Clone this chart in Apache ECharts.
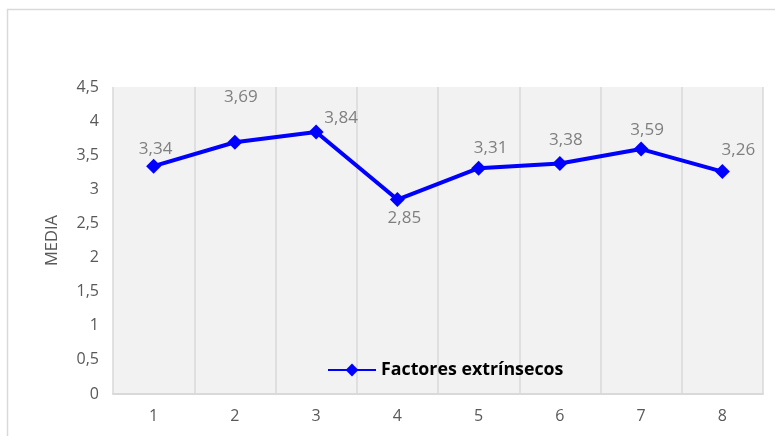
<!DOCTYPE html>
<html><head><meta charset="utf-8">
<script src="https://cdn.jsdelivr.net/npm/echarts@6/dist/echarts.min.js"></script>
<style>html,body{margin:0;padding:0;background:#fff}#c{width:775px;height:436px}</style>
</head><body><div id="c"></div>
<script>
const categories = ['1','2','3','4','5','6','7','8'];
const values = [3.34, 3.69, 3.84, 2.85, 3.31, 3.38, 3.59, 3.26];
const seriesName = 'Factores extrínsecos';
const yTitle = 'MEDIA';
// label offsets (style only)
const labelOffsets = [[2,-17],[6,-45],[25,-14],[7,19],[12,-20],[6,-23],[6,-19],[16,-21]];
const fmt = v => String(v).replace('.', ',');
const font = 'Open Sans';
const chart = echarts.init(document.getElementById('c'));
chart.setOption({
  animation: false,
  textStyle: {fontFamily: font},
  graphic: [{type:'rect', shape:{x:7.5,y:9.5,width:800,height:500}, style:{fill:'none', stroke:'#d9d9d9', lineWidth:1.5}, z:-10}],
  grid: {left:113, top:87, width:650, height:307, show:true, backgroundColor:'#f2f2f2', borderWidth:0},
  legend: {left:322, top:356, itemWidth:48, itemHeight:16, itemGap:0,
    textStyle:{fontFamily:font, fontSize:17.8, fontWeight:'bold', color:'#000'},
    data:[{name:seriesName}]},
  xAxis: {type:'category', data:categories, boundaryGap:true,
    axisLine:{show:true, lineStyle:{color:'#d9d9d9', width:2}},
    axisTick:{show:false},
    axisLabel:{color:'#595959', fontSize:16, margin:14, fontFamily:font},
    splitLine:{show:true, lineStyle:{color:'#d9d9d9', width:1.5}}},
  yAxis: {type:'value', min:0, max:4.5, interval:0.5,
    name:yTitle, nameLocation:'middle', nameGap:52, nameRotate:90,
    nameTextStyle:{color:'#595959', fontSize:16.5, fontFamily:font},
    axisLine:{show:false}, axisTick:{show:false}, splitLine:{show:false},
    axisLabel:{color:'#595959', fontSize:16, margin:14, fontFamily:font, formatter:v=>fmt(v)}},
  series: [{
    name: seriesName, type:'line',
    data: values.map((v,i)=>({value:v, label:{offset:labelOffsets[i]}})),
    symbol:'diamond', symbolSize:15,
    lineStyle:{color:'#0000ff', width:4},
    itemStyle:{color:'#0000ff'},
    label:{show:true, position:'inside', align:'center', verticalAlign:'middle', color:'#7f7f7f', fontSize:17, fontFamily:font, formatter:p=>fmt(p.value)}
  }]
});
</script></body></html>
